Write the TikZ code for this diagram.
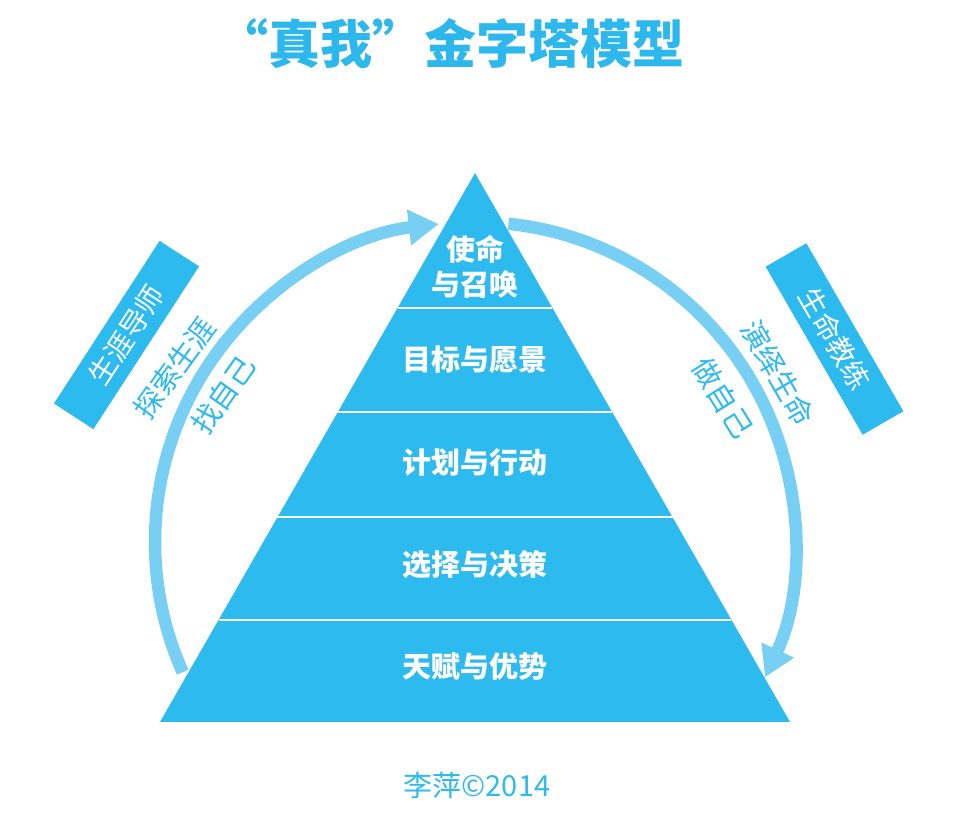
\documentclass[tikz,border=0pt]{standalone}
\usepackage{fontspec}
\newfontfamily\cjk{Noto Sans CJK SC}
\usetikzlibrary{arrows.meta,calc}
\definecolor{pyblue}{HTML}{2DBAEF}
\definecolor{arcblue}{HTML}{78CFF4}
\definecolor{titleblue}{HTML}{2CB7ED}

\begin{document}
\begin{tikzpicture}[x=1pt,y=1pt,
	tier/.style={text=white,font=\cjk\bfseries\fontsize{29}{35}\selectfont,align=center,inner sep=0pt},
	rolebox/.style={fill=pyblue,text=white,minimum width=194pt,minimum height=47pt,inner sep=0pt,font=\cjk\fontsize{28}{30}\selectfont},
	arclabel/.style={text=pyblue,inner sep=0pt,font=\cjk\fontsize{29}{30}\selectfont},
	journey/.style={arcblue,line width=12.5pt,-{Triangle[length=30pt,width=34pt]}}]

\useasboundingbox (0,0) rectangle (956,824);

%pyramid
\coordinate (apex) at (475,651);
\coordinate (bl) at (160,102);
\coordinate (br) at (790,102);
\fill[pyblue] (bl) -- (br) -- (apex) -- cycle;
\foreach \t in {0.186,0.373,0.565,0.754}
	\draw[white,line width=1.5pt] ($(bl)!\t!(apex)$) -- ($(br)!\t!(apex)$);% tier borders

%arcs
\coordinate (hub) at (475,282);
\draw[journey] ($(hub)+(204:320)$) arc[start angle=204,end angle=96.5,radius=320];% find
\draw[journey] ($(hub)+(84:320)$) arc[start angle=84,end angle=-25,radius=320];% act

%tiers
\node[tier] (mission) at (475,557) {使命\\与召唤};
\node[tier] (vision) at (475,464) {目标与愿景};
\node[tier] (plan) at (475,361) {计划与行动};
\node[tier] (choice) at (475,259) {选择与决策};
\node[tier] (talent) at (475,157) {天赋与优势};

%side roles
\node[rolebox,rotate=57] (mentor) at (126.5,489) {生涯导师};
\node[rolebox,rotate=-60] (coach) at (834.5,485) {生命教练};
\node[arclabel,rotate=54] (explore) at (175,456) {探索生涯};
\node[arclabel,rotate=55] (findself) at (223,429) {找自己};
\node[arclabel,rotate=-60] (perform) at (778,451) {演绎生命};
\node[arclabel,rotate=-58] (beself) at (723,426) {做自己};

%title and credit
\node[text=titleblue,font=\cjk\bfseries\fontsize{52}{54}\selectfont] (title) at (450,780) {“真我”金字塔模型};
\node[text=pyblue,font=\cjk\fontsize{29}{30}\selectfont] (credit) at (477,39) {李萍©2014};

\end{tikzpicture}
\end{document}
